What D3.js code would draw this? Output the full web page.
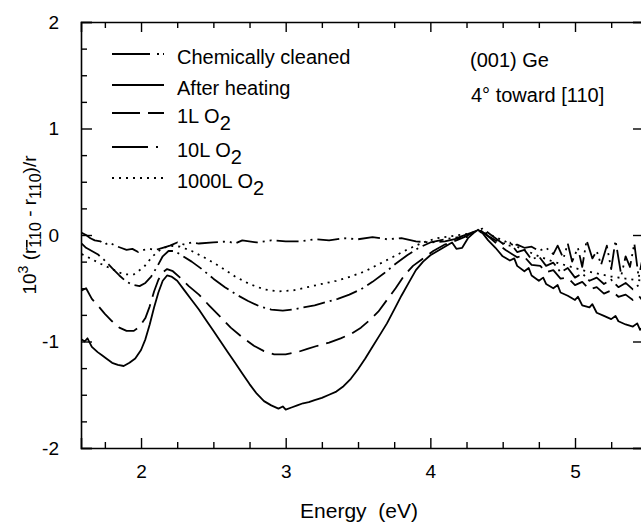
<!DOCTYPE html>
<html>
<head>
<meta charset="utf-8">
<script src="https://cdn.jsdelivr.net/npm/d3@7"></script>
<style>
  body { margin: 0; background: #fff; }
  svg { font-family: "Liberation Sans", Arial, sans-serif; }
  .domain { stroke: #000; stroke-width: 1.6; }
  .tick line { stroke: #000; stroke-width: 1.4; }
  .curve { fill: none; stroke: #000; stroke-width: 1.8; stroke-linejoin: round; }
</style>
</head>
<body>
<script>
// Reflectance-anisotropy spectra, (001) Ge
var seriesNames = ['Chemically cleaned', 'After heating', '1L O2', '10L O2', '1000L O2'];

var chemCleaned = [[1.59,0.02],[1.62,0.0],[1.65,-0.03],[1.68,-0.05],[1.72,-0.06],[1.75,-0.09],[1.78,-0.07],[1.82,-0.10],
  [1.86,-0.12],[1.90,-0.14],[1.94,-0.13],[1.98,-0.16],[2.02,-0.14],[2.06,-0.13],[2.10,-0.14],[2.15,-0.12],[2.20,-0.10],
  [2.25,-0.07],[2.30,-0.09],[2.35,-0.07],[2.40,-0.08],[2.50,-0.07],[2.60,-0.06],[2.65,-0.08],[2.70,-0.05],[2.80,-0.07],
  [2.90,-0.05],[3.00,-0.06],[3.10,-0.06],[3.20,-0.04],[3.30,-0.05],[3.40,-0.03],[3.50,-0.04],[3.60,-0.02],[3.70,-0.04],
  [3.80,-0.03],[3.90,-0.06],[4.00,-0.07],[4.10,-0.06],[4.20,-0.03],[4.25,-0.02],[4.30,0.02],[4.35,0.04],[4.40,-0.01],
  [4.45,-0.05],[4.50,-0.08],[4.55,-0.10],[4.60,-0.09],[4.65,-0.12],[4.70,-0.11],[4.75,-0.15],[4.80,-0.12],[4.85,-0.18],
  [4.88,-0.10],[4.92,-0.22],[4.95,-0.08],[4.98,-0.25],[5.02,-0.12],[5.05,-0.30],[5.08,-0.05],[5.12,-0.22],[5.15,-0.15],
  [5.18,-0.28],[5.22,-0.10],[5.25,-0.32],[5.28,-0.05],[5.32,-0.38],[5.35,-0.20],[5.38,-0.30],[5.41,-0.08],[5.44,-0.40],[5.47,-0.20]];

var afterHeating = [[1.59,-0.98],[1.61,-1.00],[1.63,-0.97],[1.66,-1.05],[1.70,-1.10],[1.73,-1.13],[1.76,-1.16],[1.80,-1.20],
  [1.84,-1.22],[1.88,-1.23],[1.92,-1.20],[1.96,-1.16],[2.00,-1.08],[2.03,-0.98],[2.06,-0.84],[2.09,-0.68],[2.12,-0.54],
  [2.15,-0.43],[2.18,-0.38],[2.21,-0.39],[2.25,-0.43],[2.30,-0.52],[2.35,-0.61],[2.40,-0.70],[2.45,-0.80],[2.50,-0.90],
  [2.55,-1.00],[2.60,-1.10],[2.65,-1.20],[2.70,-1.30],[2.75,-1.40],[2.80,-1.49],[2.85,-1.56],[2.90,-1.60],[2.95,-1.63],
  [2.98,-1.61],[3.00,-1.64],[3.04,-1.62],[3.08,-1.60],[3.12,-1.58],[3.16,-1.57],[3.20,-1.55],[3.25,-1.53],[3.30,-1.50],
  [3.35,-1.47],[3.40,-1.42],[3.45,-1.35],[3.50,-1.26],[3.55,-1.16],[3.60,-1.05],[3.65,-0.94],[3.70,-0.83],[3.75,-0.70],
  [3.80,-0.57],[3.85,-0.45],[3.90,-0.33],[3.95,-0.25],[4.00,-0.19],[4.05,-0.15],[4.10,-0.11],[4.15,-0.07],[4.18,-0.13],
  [4.22,-0.12],[4.26,-0.03],[4.30,0.02],[4.33,0.05],[4.36,0.02],[4.40,-0.05],[4.45,-0.12],[4.50,-0.20],[4.55,-0.24],
  [4.58,-0.22],[4.60,-0.29],[4.65,-0.34],[4.68,-0.31],[4.70,-0.38],[4.75,-0.43],[4.78,-0.40],[4.80,-0.46],[4.85,-0.50],
  [4.88,-0.47],[4.90,-0.54],[4.95,-0.57],[5.00,-0.61],[5.02,-0.58],[5.05,-0.66],[5.10,-0.68],[5.12,-0.65],[5.15,-0.73],
  [5.20,-0.76],[5.25,-0.79],[5.28,-0.76],[5.30,-0.81],[5.35,-0.84],[5.40,-0.86],[5.43,-0.83],[5.45,-0.89],[5.47,-0.86]];

var oxygen1L = [[1.59,-0.52],[1.62,-0.50],[1.66,-0.60],[1.70,-0.66],[1.75,-0.74],[1.80,-0.81],[1.85,-0.87],[1.90,-0.90],
  [1.95,-0.90],[1.99,-0.86],[2.03,-0.78],[2.06,-0.67],[2.09,-0.53],[2.12,-0.42],[2.15,-0.35],[2.18,-0.32],[2.22,-0.34],
  [2.27,-0.40],[2.33,-0.48],[2.40,-0.56],[2.47,-0.66],[2.55,-0.77],[2.62,-0.87],[2.70,-0.96],[2.78,-1.04],[2.85,-1.09],
  [2.92,-1.12],[3.00,-1.12],[3.08,-1.10],[3.15,-1.07],[3.22,-1.04],[3.30,-1.01],[3.38,-0.97],[3.45,-0.93],[3.52,-0.87],
  [3.58,-0.80],[3.64,-0.72],[3.70,-0.61],[3.76,-0.50],[3.82,-0.38],[3.88,-0.29],[3.95,-0.22],[4.02,-0.15],[4.10,-0.09],
  [4.18,-0.05],[4.25,-0.01],[4.32,0.04],[4.38,0.01],[4.45,-0.07],[4.52,-0.14],[4.60,-0.21],[4.64,-0.19],[4.70,-0.28],
  [4.76,-0.29],[4.80,-0.35],[4.85,-0.33],[4.90,-0.41],[4.95,-0.40],[5.00,-0.47],[5.05,-0.44],[5.10,-0.51],[5.15,-0.49],
  [5.20,-0.55],[5.25,-0.52],[5.30,-0.58],[5.35,-0.56],[5.40,-0.61],[5.44,-0.57],[5.47,-0.62]];

var oxygen10L = [[1.59,-0.08],[1.62,-0.12],[1.66,-0.15],[1.70,-0.18],[1.75,-0.24],[1.80,-0.31],[1.85,-0.38],[1.90,-0.44],
  [1.95,-0.47],[1.99,-0.48],[2.03,-0.45],[2.07,-0.39],[2.11,-0.30],[2.15,-0.20],[2.19,-0.15],[2.23,-0.15],[2.28,-0.19],
  [2.35,-0.25],[2.42,-0.32],[2.50,-0.41],[2.58,-0.49],[2.66,-0.56],[2.74,-0.62],[2.82,-0.67],[2.90,-0.70],[2.98,-0.71],
  [3.05,-0.70],[3.12,-0.68],[3.20,-0.66],[3.28,-0.63],[3.36,-0.60],[3.44,-0.56],[3.52,-0.51],[3.60,-0.44],[3.68,-0.36],
  [3.76,-0.27],[3.84,-0.19],[3.92,-0.12],[4.00,-0.07],[4.10,-0.04],[4.20,-0.02],[4.30,0.03],[4.36,0.06],[4.42,0.00],
  [4.50,-0.08],[4.55,-0.07],[4.60,-0.16],[4.65,-0.14],[4.70,-0.23],[4.75,-0.20],[4.80,-0.29],[4.85,-0.26],[4.90,-0.35],
  [4.95,-0.31],[5.00,-0.40],[5.05,-0.36],[5.10,-0.43],[5.15,-0.40],[5.20,-0.46],[5.25,-0.42],[5.30,-0.49],[5.35,-0.45],
  [5.40,-0.51],[5.44,-0.47],[5.47,-0.52]];

var oxygen1000L = [[1.59,-0.18],[1.65,-0.22],[1.72,-0.27],[1.80,-0.32],[1.88,-0.37],[1.95,-0.37],[2.02,-0.30],[2.08,-0.20],
  [2.14,-0.13],[2.20,-0.10],[2.27,-0.11],[2.35,-0.15],[2.45,-0.22],[2.55,-0.30],[2.65,-0.39],[2.75,-0.46],[2.85,-0.51],
  [2.95,-0.53],[3.05,-0.52],[3.15,-0.49],[3.25,-0.46],[3.35,-0.43],[3.45,-0.39],[3.55,-0.34],[3.65,-0.27],[3.75,-0.20],
  [3.85,-0.13],[3.95,-0.07],[4.05,-0.03],[4.15,-0.01],[4.25,0.01],[4.35,0.04],[4.45,-0.02],[4.55,-0.08],[4.65,-0.14],
  [4.75,-0.20],[4.85,-0.25],[4.95,-0.29],[5.05,-0.33],[5.15,-0.36],[5.25,-0.39],[5.35,-0.41],[5.47,-0.43]];

var xTicks = [2, 3, 4, 5];
var yTicks = [-2, -1, 0, 1, 2];

var series = [chemCleaned, afterHeating, oxygen1L, oxygen10L, oxygen1000L];
var dashes = ['22,5,2,5,2,5', null, '20,8', '22,5,2,5', '2,5'];
var legendDashes = ['38,7,2,4,2,200', null, '28,8,40', '36,8,2,200', '2,5'];

var plotLeft = 81, plotRight = 643, plotTop = 22, plotBottom = 448;

var x = d3.scaleLinear().domain([1.585, 5.47]).range([plotLeft, plotRight]);
var y = d3.scaleLinear().domain([-2, 2]).range([plotBottom, plotTop]);

var svg = d3.select('body').append('svg')
  .attr('width', 641)
  .attr('height', 522);

svg.append('defs').append('clipPath')
  .attr('id', 'clip')
  .append('rect')
  .attr('x', plotLeft).attr('y', plotTop)
  .attr('width', plotRight - plotLeft).attr('height', plotBottom - plotTop);

var quarterX = d3.range(1.75, 5.5, 0.25).filter(function(v) { return v % 1 !== 0; });
var quarterY = d3.range(-1.75, 2, 0.25).filter(function(v) { return v % 1 !== 0; });

function noText() { return ''; }
function plain(d) { return String(d); }   // hyphen minus, as in the figure
function bigLabels(g) {
  g.attr('font-family', null).attr('font-size', null);
  g.selectAll('text').attr('font-size', 19).attr('fill', '#000');
}

// bottom
svg.append('g').attr('transform', 'translate(0,' + plotBottom + ')')
  .call(d3.axisBottom(x).tickValues(xTicks).tickSize(-10).tickPadding(17).tickFormat(plain))
  .call(bigLabels);
svg.append('g').attr('transform', 'translate(0,' + plotBottom + ')')
  .call(d3.axisBottom(x).tickValues(quarterX).tickSize(-6).tickFormat(noText))
  .select('.domain').remove();

// top
svg.append('g').attr('transform', 'translate(0,' + plotTop + ')')
  .call(d3.axisTop(x).tickValues(xTicks).tickSize(-10).tickFormat(noText));
svg.append('g').attr('transform', 'translate(0,' + plotTop + ')')
  .call(d3.axisTop(x).tickValues(quarterX).tickSize(-6).tickFormat(noText))
  .select('.domain').remove();

// left
svg.append('g').attr('transform', 'translate(' + plotLeft + ',0)')
  .call(d3.axisLeft(y).tickValues(yTicks).tickSize(-11).tickPadding(22).tickFormat(plain))
  .call(bigLabels);
svg.append('g').attr('transform', 'translate(' + plotLeft + ',0)')
  .call(d3.axisLeft(y).tickValues(quarterY).tickSize(-6).tickFormat(noText))
  .select('.domain').remove();

// right
svg.append('g').attr('transform', 'translate(' + plotRight + ',0)')
  .call(d3.axisRight(y).tickValues(yTicks).tickSize(-10).tickFormat(noText));

var line = d3.line()
  .x(function(d) { return x(d[0]); })
  .y(function(d) { return y(d[1]); });

svg.append('g').attr('clip-path', 'url(#clip)')
  .selectAll('path')
  .data(series)
  .join('path')
  .attr('class', 'curve')
  .attr('stroke-dasharray', function(d, i) { return dashes[i]; })
  .attr('d', line);

// legend
var legendY = [54, 85, 113, 147, 178];
var legend = svg.append('g');
seriesNames.forEach(function(name, i) {
  legend.append('line')
    .attr('class', 'curve')
    .attr('x1', 112).attr('x2', 164)
    .attr('y1', legendY[i]).attr('y2', legendY[i])
    .attr('stroke-dasharray', legendDashes[i]);
  var t = legend.append('text')
    .attr('x', 177).attr('y', legendY[i] + 10)
    .attr('font-size', 20);
  if (name.slice(-2) === 'O2') {
    t.append('tspan').text(name.slice(0, -1));
    t.append('tspan').attr('dy', 7).text('2');
  } else {
    t.text(name);
  }
});

svg.append('text').attr('x', 470).attr('y', 67).attr('font-size', 20).text('(001) Ge');
svg.append('text').attr('x', 471).attr('y', 102).attr('font-size', 20).text('4\u00b0 toward [110]');

// axis titles
svg.append('text')
  .attr('x', 359).attr('y', 518)
  .attr('text-anchor', 'middle')
  .attr('font-size', 21)
  .style('white-space', 'pre')
  .text('Energy  (eV)');

var yt = svg.append('text')
  .attr('transform', 'translate(36,225) rotate(-90)')
  .attr('text-anchor', 'middle')
  .attr('font-size', 19);
yt.append('tspan').text('10');
yt.append('tspan').attr('font-size', 14).attr('dy', -8).text('3');
yt.append('tspan').attr('dy', 8).text(' (r');
yt.append('tspan').attr('font-size', 16).attr('dy', 5).attr('text-decoration', 'overline').text('1');
yt.append('tspan').attr('font-size', 16).text('10');
yt.append('tspan').attr('dy', -5).text(' - r');
yt.append('tspan').attr('font-size', 16).attr('dy', 5).text('110');
yt.append('tspan').attr('dy', -5).text(')/r');
</script>
</body>
</html>
